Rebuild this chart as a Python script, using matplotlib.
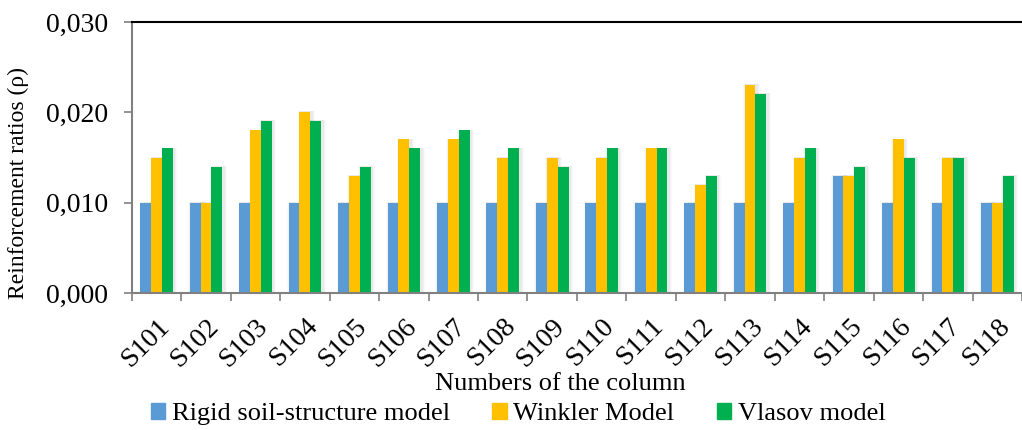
import numpy as np
import matplotlib.pyplot as plt
import matplotlib.transforms as mtransforms
from matplotlib.patches import Patch

plt.rcParams['font.family'] = ['Liberation Serif', 'DejaVu Serif']

columns = ['S101', 'S102', 'S103', 'S104', 'S105', 'S106', 'S107', 'S108', 'S109',
           'S110', 'S111', 'S112', 'S113', 'S114', 'S115', 'S116', 'S117', 'S118']
rigid = [0.010, 0.010, 0.010, 0.010, 0.010, 0.010, 0.010, 0.010, 0.010,
         0.010, 0.010, 0.010, 0.010, 0.010, 0.013, 0.010, 0.010, 0.010]
winkler = [0.015, 0.010, 0.018, 0.020, 0.013, 0.017, 0.017, 0.015, 0.015,
           0.015, 0.016, 0.012, 0.023, 0.015, 0.013, 0.017, 0.015, 0.010]
vlasov = [0.016, 0.014, 0.019, 0.019, 0.014, 0.016, 0.018, 0.016, 0.014,
          0.016, 0.016, 0.013, 0.022, 0.016, 0.014, 0.015, 0.015, 0.013]

names = ['Rigid soil-structure model', 'Winkler Model', 'Vlasov model']
colors = ['#5B9BD5', '#FFC000', '#00B050']

fig = plt.figure(figsize=(10.22, 4.30), dpi=100)
ax = fig.add_axes([0.129, 0.3186, 0.871, 0.6302])

x = np.arange(len(columns))
w = 0.22
for k, (vals, c) in enumerate(zip([rigid, winkler, vlasov], colors)):
    pos = x + (k - 1) * w
    # soft shadow behind the bars (mostly to the right)
    for s, a in [(0.12, 0.04), (0.08, 0.06), (0.04, 0.08)]:
        ax.bar(pos + 0.03, np.array(vals) + 0.0001, width=w + s, color='grey',
               alpha=a, linewidth=0, zorder=1)
    ax.bar(pos, vals, width=w, color=c, linewidth=0, zorder=2)

ax.set_ylim(0, 0.030)
ax.set_xlim(-0.5, 17.23)
ax.set_yticks([0, 0.010, 0.020, 0.030])
ax.set_yticklabels(['0,000', '0,010', '0,020', '0,030'], fontsize=20)
ax.set_xticks(x)
ax.set_xticklabels(columns, rotation=45, ha='right', rotation_mode='anchor', fontsize=20)
off = mtransforms.ScaledTranslation(7 / 100, 0, fig.dpi_scale_trans)
for lab in ax.get_xticklabels():
    lab.set_transform(lab.get_transform() + off)
ax.set_xticks(np.arange(-0.5, 18, 1), minor=True)
ax.tick_params(axis='x', which='major', length=0, pad=15)
ax.tick_params(axis='x', which='minor', length=6, color='#808080', width=1.2, direction='out')
ax.tick_params(axis='y', length=6, color='#808080', width=1.2, direction='out', pad=11)

ax.spines['right'].set_visible(False)
ax.spines['top'].set_color('black')
ax.spines['top'].set_linewidth(1.5)
ax.spines['left'].set_color('#808080')
ax.spines['left'].set_linewidth(1.5)
ax.spines['bottom'].set_color('#808080')
ax.spines['bottom'].set_linewidth(1.5)

fig.text(18 / 1022, 1 - 183 / 430, 'Reinforcement ratios (ρ)', fontsize=17,
         rotation=90, ha='center', va='center')
fig.text(560 / 1022, 1 - 384 / 430, 'Numbers of the column', fontsize=19,
         ha='center', va='center')

handles = [Patch(color=c, label=n) for c, n in zip(colors, names)]
fig.legend(handles=handles, loc='center', bbox_to_anchor=(518 / 1022, 1 - 414 / 430), ncol=3,
           frameon=False, fontsize=19, handlelength=0.55, handleheight=0.55,
           handletextpad=0.25, columnspacing=1.6, borderaxespad=0, borderpad=0)

fig.savefig('out.png', dpi=100)
